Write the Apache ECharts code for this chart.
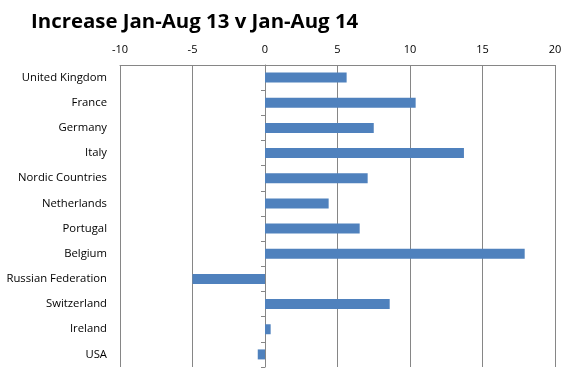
<!DOCTYPE html>
<html><head><meta charset="utf-8">
<script src="https://cdn.jsdelivr.net/npm/echarts@6/dist/echarts.min.js"></script>
<style>html,body{margin:0;padding:0;background:#fff}#c{width:565px;height:380px}</style>
</head><body><div id="c"></div>
<script>
var categories = ["United Kingdom","France","Germany","Italy","Nordic Countries","Netherlands","Portugal","Belgium","Russian Federation","Switzerland","Ireland","USA"];
var values = [5.63, 10.39, 7.5, 13.72, 7.08, 4.39, 6.53, 17.91, -5.0, 8.6, 0.39, -0.5];
var xTicks = [-10, -5, 0, 5, 10, 15, 20];

var chart = echarts.init(document.getElementById('c'), null, {renderer:'canvas'});
chart.setOption({
  animation: false,
  title: {text: 'Increase Jan-Aug 13 v Jan-Aug 14', left: 26, top: 7,
    textStyle: {fontFamily: 'Open Sans', fontWeight: 'bold', fontSize: 20.4, color: '#000'}},
  grid: {left: 120, right: 10, top: 65, bottom: 13, containLabel: false, outerBoundsMode: 'none'},
  xAxis: {type: 'value', position: 'top', min: xTicks[0], max: xTicks[xTicks.length-1], interval: 5,
    axisLine: {show: true, lineStyle: {color: '#868686', width: 1}},
    axisTick: {show: false},
    axisLabel: {fontFamily: 'Open Sans', fontSize: 11, color: '#000', margin: 10},
    splitLine: {show: true, lineStyle: {color: '#868686', width: 1}}},
  yAxis: {type: 'category', data: categories, inverse: true, position: 'left',
    axisLine: {show: true, onZero: true, lineStyle: {color: '#868686', width: 1}},
    axisTick: {show: true, length: 4, lineStyle: {color: '#868686'}},
    axisLabel: {fontFamily: 'Open Sans', fontSize: 11.3, color: '#000', margin: 13}},
  series: [{type: 'bar', data: values, barWidth: 10,
    itemStyle: {color: '#4f81bd'}}]
});
</script></body></html>
